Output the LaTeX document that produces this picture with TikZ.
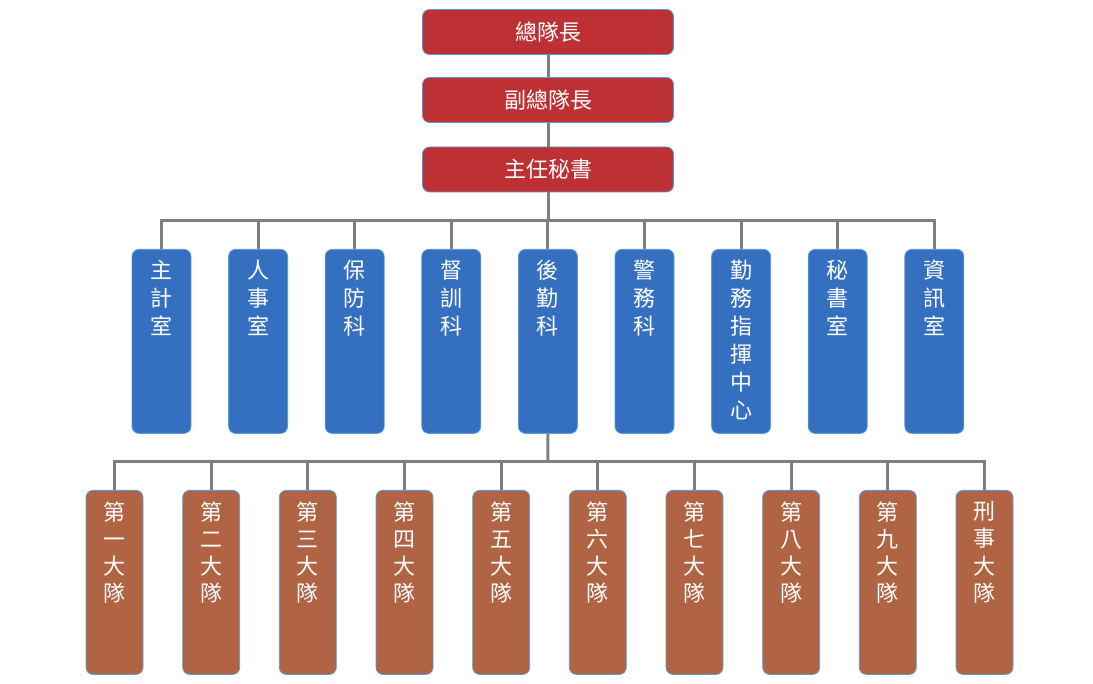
\documentclass[tikz,border=0pt]{standalone}
\usepackage{fontspec}
\newfontfamily\cjk{Noto Sans CJK TC}
\definecolor{topred}{HTML}{BD3034}
\definecolor{midblue}{HTML}{3570C0}
\definecolor{lowbrown}{HTML}{B06443}
\definecolor{edgeblue}{HTML}{5B9BD5}
\definecolor{linegrey}{HTML}{7F7F7F}
\newcommand{\colbox}[1]{\parbox[t][184pt][t]{50pt}{\centering\vspace*{11pt}#1\par}}
\tikzset{
  boxbase/.style={draw=edgeblue, line width=0.8pt, rounded corners=7pt, inner sep=0pt, text=white, font=\cjk\fontsize{22pt}{28pt}\selectfont},
  topbox/.style={boxbase, fill=topred, minimum width=251pt, minimum height=45pt},
  bluebox/.style={boxbase, fill=midblue, minimum width=59pt, minimum height=184pt, anchor=north},
  brownbox/.style={boxbase, fill=lowbrown, minimum width=57pt, minimum height=184pt, anchor=north, font=\cjk\fontsize{22pt}{27.3pt}\selectfont},
  link/.style={draw=linegrey, line width=3pt}
}
\begin{document}
\begin{tikzpicture}[x=1pt,y=-1pt]
\useasboundingbox (0,0) rectangle (1093,684);
\node[topbox] (t1) at (548,32) {總隊長};
\node[topbox] (t2) at (548,100) {副總隊長};
\node[topbox] (t3) at (548,169.5) {主任秘書};
% blue row
\node[bluebox] (b1) at (161.5,249) {\colbox{主\\計\\室}};
\node[bluebox] (b2) at (258.1,249) {\colbox{人\\事\\室}};
\node[bluebox] (b3) at (354.7,249) {\colbox{保\\防\\科}};
\node[bluebox] (b4) at (451.3,249) {\colbox{督\\訓\\科}};
\node[bluebox] (b5) at (547.9,249) {\colbox{後\\勤\\科}};
\node[bluebox] (b6) at (644.5,249) {\colbox{警\\務\\科}};
\node[bluebox] (b7) at (741.1,249) {\colbox{勤\\務\\指\\揮\\中\\心}};
\node[bluebox] (b8) at (837.7,249) {\colbox{秘\\書\\室}};
\node[bluebox] (b9) at (934.3,249) {\colbox{資\\訊\\室}};
% brown row
\node[brownbox] (c1) at (114.5,490) {\colbox{第\\一\\大\\隊}};
\node[brownbox] (c2) at (211.2,490) {\colbox{第\\二\\大\\隊}};
\node[brownbox] (c3) at (307.8,490) {\colbox{第\\三\\大\\隊}};
\node[brownbox] (c4) at (404.5,490) {\colbox{第\\四\\大\\隊}};
\node[brownbox] (c5) at (501.2,490) {\colbox{第\\五\\大\\隊}};
\node[brownbox] (c6) at (597.8,490) {\colbox{第\\六\\大\\隊}};
\node[brownbox] (c7) at (694.5,490) {\colbox{第\\七\\大\\隊}};
\node[brownbox] (c8) at (791.2,490) {\colbox{第\\八\\大\\隊}};
\node[brownbox] (c9) at (887.8,490) {\colbox{第\\九\\大\\隊}};
\node[brownbox] (c10) at (984.5,490) {\colbox{刑\\事\\大\\隊}};
% connectors
\coordinate (h1) at (548,221);
\coordinate (h2) at (548,462);
\draw[link] (t1) -- (t2);
\draw[link] (t2) -- (t3);
\draw[link] (t3.south) -- (h1);
\foreach \i in {1,...,9} { \draw[link] (h1) -| (b\i.north); }
\draw[link] (b5.south) -- (h2);
\foreach \i in {1,...,10} { \draw[link] (h2) -| (c\i.north); }
\end{tikzpicture}
\end{document}
